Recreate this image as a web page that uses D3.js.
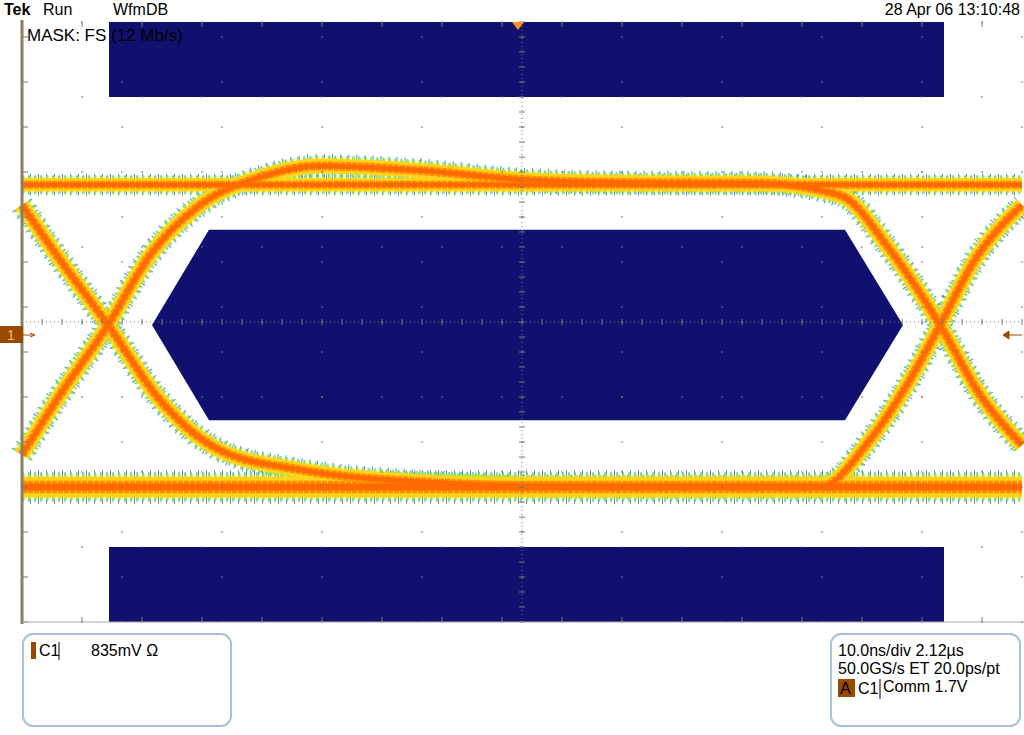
<!DOCTYPE html>
<html><head><meta charset="utf-8">
<script src="https://cdn.jsdelivr.net/npm/d3@7"></script>
<style>body{margin:0;background:#fff}svg{display:block;font-family:"Liberation Sans",Arial,sans-serif}</style>
</head><body><svg id="c" width="1024" height="735"></svg>
<script>
// time in ns (10 ns/div), voltage in divisions
const riseT=[-50,-46.2,-41.4,-37.2,-32.2,-26.2,-20.2,-10.2,-0.2,9.8,23.8,31.8,36.8,41.8,45.8,50];
const riseV=[-1.77,-0.97,-0.04,0.89,1.56,1.93,2.08,2.02,1.9,1.86,1.85,1.69,0.96,-0.04,-0.97,-1.64];
const fallT=[-50,-46.2,-41.4,-36.2,-30.2,-22.2,-10.2,7.8,29.8,34.8,38.8,41.8,45.3,50];
const fallV=[1.56,0.83,-0.04,-1.04,-1.71,-1.97,-2.13,-2.2,-2.2,-1.57,-0.77,-0.04,0.83,1.56];
const highT=[-50,50], highV=[1.83,1.83];
const lowT=[-50,50], lowV=[-2.2,-2.2];
const maskTopT=[-41.3,42.2], maskTopV=[4,3];
const maskBotT=[-41.3,42.2], maskBotV=[-3,-4];
const hexT=[-37,-31.3,32.3,38.1,32.3,-31.3];
const hexV=[-0.04,1.23,1.23,-0.04,-1.31,-1.31];

const svg=d3.select("#c");
const x=d3.scaleLinear().domain([-50,50]).range([22,1022]);
const y=d3.scaleLinear().domain([-4,4]).range([622,22]);
const mask="#10106e";
[[maskTopT,maskTopV],[maskBotT,maskBotV]].forEach(([t,v])=>svg.append("rect").attr("x",x(t[0])).attr("y",y(v[0])).attr("width",x(t[1])-x(t[0])).attr("height",y(v[1])-y(v[0])).attr("fill",mask));
svg.append("polygon").attr("points",hexT.map((t,i)=>x(t)+","+y(hexV[i])).join(" ")).attr("fill",mask);
// traces
const line=d3.line().x(d=>x(d[0])).y(d=>y(d[1])).curve(d3.curveMonotoneX);
const traces=[[riseT,riseV,1],[fallT,fallV,1],[highT,highV,0.9],[lowT,lowV,1.4]];
const layers=[[24,"#1f4fd8","1,7",0.7],[21,"#4cd870","2,4",0.8],[18,"#9ef020","3,3",0.9],[15,"#ffd21e",null,1],[9,"#ff8c00","5,1",1],[5,"#ff6a00",null,1]];
layers.forEach(([w,c,da,o])=>traces.forEach(([t,v,s])=>{
  svg.append("path").attr("d",line(t.map((d,i)=>[d,v[i]]))).attr("fill","none").attr("stroke",c).attr("stroke-width",w*s).attr("stroke-dasharray",da).attr("opacity",o);
}));
// grid
const g=svg.append("g"), gc="#777";
d3.range(-50,51,10).forEach(t=>d3.range(-4,4.01,0.6).forEach(v=>g.append("line").attr("x1",x(t)).attr("x2",x(t)).attr("y1",y(v)-1).attr("y2",y(v)+1).attr("stroke",gc)));
d3.range(-4,5,1).forEach(v=>d3.range(-50,50.1,6).forEach(t=>g.append("line").attr("x1",x(t)-1).attr("x2",x(t)+1).attr("y1",y(v)).attr("y2",y(v)).attr("stroke",gc)));
g.append("line").attr("x1",x(0)).attr("x2",x(0)).attr("y1",22).attr("y2",622).attr("stroke",gc).attr("stroke-dasharray","1,3");
g.append("line").attr("y1",y(0)).attr("y2",y(0)).attr("x1",22).attr("x2",1022).attr("stroke",gc).attr("stroke-dasharray","1,3");
d3.range(-50,50.1,2).forEach(t=>g.append("line").attr("x1",x(t)).attr("x2",x(t)).attr("y1",y(0)-3).attr("y2",y(0)+3).attr("stroke",gc));
d3.range(-4,4.01,0.2).forEach(v=>g.append("line").attr("y1",y(v)).attr("y2",y(v)).attr("x1",x(0)-3).attr("x2",x(0)+3).attr("stroke",gc));
d3.range(-50,50.1,6).forEach(t=>{g.append("line").attr("x1",x(t)).attr("x2",x(t)).attr("y1",22).attr("y2",27).attr("stroke",gc);g.append("line").attr("x1",x(t)).attr("x2",x(t)).attr("y1",617).attr("y2",622).attr("stroke",gc);});
d3.range(-4,4.01,0.6).forEach(v=>g.append("line").attr("y1",y(v)).attr("y2",y(v)).attr("x1",23).attr("x2",28).attr("stroke",gc));
// borders
svg.append("line").attr("x1",22).attr("x2",22).attr("y1",20).attr("y2",624).attr("stroke","#8a7f66").attr("stroke-width",3);
svg.append("line").attr("x1",22).attr("x2",1024).attr("y1",622).attr("y2",622).attr("stroke","#aaa");
// markers
svg.append("rect").attr("x",0).attr("y",326).attr("width",23).attr("height",17).attr("fill","#9a4a00");
svg.append("text").attr("x",11).attr("y",340).attr("text-anchor","middle").attr("font-size",14).attr("fill","#e8c060").text("1");
svg.append("path").attr("d","M23,335 L33,335 M30,333 L35,335 L30,337").attr("stroke","#9a4a00").attr("fill","none");
svg.append("path").attr("d","M1022,335 L1004,335 M1003,335 L1009,331 L1009,339 Z").attr("stroke","#9a4a00").attr("fill","#9a4a00");
svg.append("path").attr("d","M512,22 L524,22 L518,30 Z").attr("fill","#ff9020");
// text
const T=(xx,yy,s,sz,opt={})=>svg.append("text").attr("x",xx).attr("y",yy).attr("font-size",sz).attr("fill","#000").attr("text-anchor",opt.a||"start").attr("font-weight",opt.w||"normal").text(s);
T(4,15,"Tek",16,{w:"bold"});T(43,15,"Run",16);T(113,15,"WfmDB",16);T(1020,15,"28 Apr 06 13:10:48",16,{a:"end"});
T(27,41,"MASK: FS (12 Mb/s)",17);
svg.append("rect").attr("x",23).attr("y",634).attr("width",208).attr("height",92).attr("rx",10).attr("fill","none").attr("stroke","#a9c0dc").attr("stroke-width",2);
svg.append("rect").attr("x",831).attr("y",634).attr("width",189).attr("height",92).attr("rx",10).attr("fill","none").attr("stroke","#a9c0dc").attr("stroke-width",2);
svg.append("rect").attr("x",31).attr("y",642).attr("width",5).attr("height",17).attr("fill","#9a4a00");
T(39,656,"C1",16);svg.append("line").attr("x1",59).attr("x2",59).attr("y1",642).attr("y2",660).attr("stroke","#000");
T(91,656,"835mV Ω",16);
T(838,656,"10.0ns/div  2.12µs",16);T(838,674,"50.0GS/s ET 20.0ps/pt",16);
svg.append("rect").attr("x",838).attr("y",679).attr("width",17).attr("height",18).attr("fill","#9a4a00");
T(840,694,"A",16);T(858,694,"C1",16);svg.append("line").attr("x1",880).attr("x2",880).attr("y1",679).attr("y2",699).attr("stroke","#000");T(883,692,"Comm 1.7V",16);
</script></body></html>
